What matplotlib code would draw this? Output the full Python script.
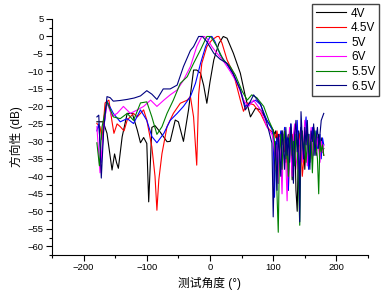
import matplotlib
matplotlib.use("Agg")
import matplotlib.pyplot as plt
from matplotlib.ticker import MultipleLocator

plt.rcParams['font.family'] = ['Liberation Sans', 'Noto Sans CJK SC', 'DejaVu Sans']

labels = ['4V', '4.5V', '5V', '6V', '5.5V', '6.5V']
colors = ['#000000', '#FF0000', '#0000FF', '#FF00FF', '#008000', '#000080']

# angles of the noisy tail (100..180 deg, 2 deg steps)
tail = list(range(100, 181, 2))

# 4V
ang_4 = [-179, -169, -163, -155, -151, -148, -145, -139, -131, -123, -115, -110, -105,
         -100, -97, -92, -87, -79, -68, -63, -55, -50, -42, -34, -26, -21, -15, -10, -5,
         0, 6, 14, 21, 27, 37, 48, 56, 64, 72, 80, 90] + tail
db_4 = [-24.4, -24.4, -27.7, -38.2, -33.6, -36.0, -37.7, -28.7, -22.0, -22.0, -26.8, -30.4, -28.9,
        -30.6, -47.3, -26.0, -25.5, -27.3, -30.1, -30.0, -23.9, -24.4, -30.0, -21.0, -9.6, -9.6, -10.5, -14.0, -19.1,
        -13.0, -6.7, -2.0, 0.0, -0.5, -4.8, -10.5, -17.2, -23.0, -20.5, -21.0, -24.0,
        -26.8, -28, -27, -30, -28, -33, -29, -27, -31, -28, -36, -30, -28, -32, -29, -41, -30, -27, -44, -50,
        -31, -28, -26, -33, -30, -38, -29, -27, -31, -36, -28, -30, -26, -29, -34, -30, -28, -31, -29, -33, -32]

# 4.5V
ang_45 = [-179, -174, -171, -166, -160, -155, -152, -147, -142, -136, -131, -121, -115, -105,
          -100, -92, -87, -84, -81, -76, -68, -58, -47, -36, -31, -26, -21, -18, -13, -5,
          3, 11, 14, 19, 27, 37, 48, 53, 59, 69, 80, 90] + tail
db_45 = [-24.9, -25.8, -29.5, -19.0, -18.2, -24.4, -27.7, -25.0, -25.8, -27.0, -23.9, -22.0, -23.0, -21.0,
         -23.9, -31.6, -40.0, -49.7, -41.0, -33.5, -25.8, -22.0, -19.1, -18.2, -17.2, -23.0, -36.8, -16.7, -7.7, -2.9,
         -1.0, 0.0, 0.0, -1.9, -6.7, -10.5, -18.2, -21.4, -19.0, -19.5, -22.0, -25.8,
         -27.7, -28, -29, -27, -30, -28, -29, -31, -28, -33, -30, -37, -44, -32, -29, -28, -31, -34, -29, -30,
         -35, -28, -31, -40, -36, -29, -27, -30, -33, -29, -31, -35, -28, -30, -33, -29, -31, -34, -30, -32, -34]

# 5V
ang_5 = [-179, -176, -172, -168, -163, -153, -142, -131, -121, -110, -100, -92, -84, -73,
         -63, -52, -42, -31, -23, -15, -7, 0, 3, 8, 16, 27, 37, 48, 56, 64, 72, 80, 90, 98] + tail
db_5 = [-27.0, -25.0, -36.0, -26.0, -18.5, -22.0, -24.4, -23.5, -24.9, -21.0, -24.0, -28.6, -30.4, -27.7,
        -24.0, -22.0, -20.0, -17.2, -13.4, -7.7, -2.9, 0.0, 0.0, -1.5, -5.2, -8.0, -10.8, -15.3, -20.0, -19.0, -18.2, -19.5, -24.0, -26.5,
        -28.6, -46, -33, -29, -42, -30, -27, -38, -31, -26, -35, -29, -44, -30, -25, -32, -37, -27, -30, -24,
        -33, -40, -26, -29, -35, -27, -23, -31, -38, -28, -30, -26, -34, -29, -27, -32, -30, -28, -35, -29, -31]

# 6V
ang_6 = [-179, -174, -168, -163, -155, -147, -137, -126, -115, -105, -94, -84, -73, -63,
         -52, -42, -31, -21, -13, -9, -5, 3, 11, 21, 32, 43, 53, 61, 69, 80, 90, 98] + tail
db_6 = [-25.8, -39.0, -25.8, -19.0, -22.8, -22.0, -20.0, -22.0, -21.0, -20.0, -18.2, -20.0, -18.2, -16.7,
        -15.3, -12.5, -8.6, -2.9, 0.0, 0.0, -0.5, -2.9, -4.8, -7.0, -10.0, -13.4, -18.2, -20.0, -18.2, -21.0, -25.8, -28.0,
        -29.5, -33, -38, -31, -42, -29, -35, -45, -30, -27, -36, -47, -31, -26, -33, -40, -28, -25, -34, -38,
        -29, -31, -27, -36, -30, -24, -33, -37, -28, -31, -26, -35, -30, -28, -33, -29, -32, -36, -30, -33, -31]

# 5.5V
ang_55 = [-179, -175, -171, -163, -153, -142, -131, -121, -110, -100, -92, -84, -76, -68,
          -58, -47, -36, -26, -15, -5, 0, 3, 11, 21, 32, 40, 51, 59, 66, 74, 85, 93] + tail
db_55 = [-30.4, -37.0, -26.0, -18.7, -23.0, -23.5, -22.0, -24.0, -19.0, -18.7, -23.0, -28.0, -25.8, -22.0,
         -18.2, -13.4, -11.5, -7.7, -3.8, 0.0, 0.0, -0.5, -2.9, -6.7, -8.6, -11.0, -15.7, -18.2, -16.7, -17.5, -20.0, -24.0,
         -26.8, -30, -36, -45, -56, -33, -28, -38, -30, -27, -35, -31, -40, -29, -26, -34, -30, -37, -28, -32,
         -42, -54, -30, -27, -33, -29, -36, -31, -28, -34, -30, -39, -29, -27, -31, -35, -45, -30, -33, -31, -34]

# 6.5V
ang_65 = [-179, -176, -172, -168, -163, -158, -153, -142, -131, -120, -110, -100, -92, -84,
          -74, -63, -52, -42, -31, -26, -18, -12, -5, 6, 16, 27, 37, 48, 56, 64, 69, 80, 90] + [98] + tail
db_65 = [-23.0, -22.5, -40.5, -26.0, -17.2, -17.5, -18.5, -18.3, -18.0, -17.6, -17.0, -15.5, -16.5, -18.0,
         -15.0, -15.0, -13.9, -8.6, -4.0, -2.9, 0.0, 0.0, -1.5, -4.8, -6.5, -7.7, -10.8, -15.3, -21.0, -18.5, -16.7, -19.4, -24.8,
         -30.5, -51.6, -36, -30, -44, -28, -33, -40, -27, -31, -38, -26, -34, -29, -36, -25, -30, -42, -28, -24,
         -33, -27, -53, -21.5, -29, -35, -26, -31, -24, -33, -38, -27, -30, -25, -34, -29, -26, -32, -28, -24, -23, -22]

angles = [ang_4, ang_45, ang_5, ang_6, ang_55, ang_65]
values = [db_4, db_45, db_5, db_6, db_55, db_65]

fig = plt.figure(figsize=(3.82, 2.95), dpi=100)
ax = fig.add_axes([52/382, 1-255/295, 316/382, 236/295])

for a, v, c, l in zip(angles, values, colors, labels):
    ax.plot(a, v, color=c, lw=0.8, label=l)

ax.set_xlim(-250, 250)
ax.set_ylim(-62.5, 5)
ax.xaxis.set_major_locator(MultipleLocator(100))
ax.xaxis.set_minor_locator(MultipleLocator(50))
ax.yaxis.set_major_locator(MultipleLocator(5))
ax.yaxis.set_minor_locator(MultipleLocator(2.5))
ax.tick_params(which='major', direction='out', length=4, width=0.8, labelsize=6.8, pad=2)
ax.tick_params(which='minor', direction='out', length=2, width=0.8)
ax.spines['top'].set_visible(False)
ax.spines['right'].set_visible(False)

ax.set_xlabel('测试角度 (°)', fontsize=8.5, labelpad=3)
ax.set_ylabel('方向性 (dB)', fontsize=8.5, labelpad=3)

fig.legend(loc='upper right', bbox_to_anchor=(379/382, 1-4/295), fontsize=8.5,
           frameon=True, fancybox=False, edgecolor='#444444', framealpha=1,
           handlelength=2.6, labelspacing=0.22, borderpad=0.3, handletextpad=0.4,
           borderaxespad=0)

fig.savefig('out.png', dpi=100)
